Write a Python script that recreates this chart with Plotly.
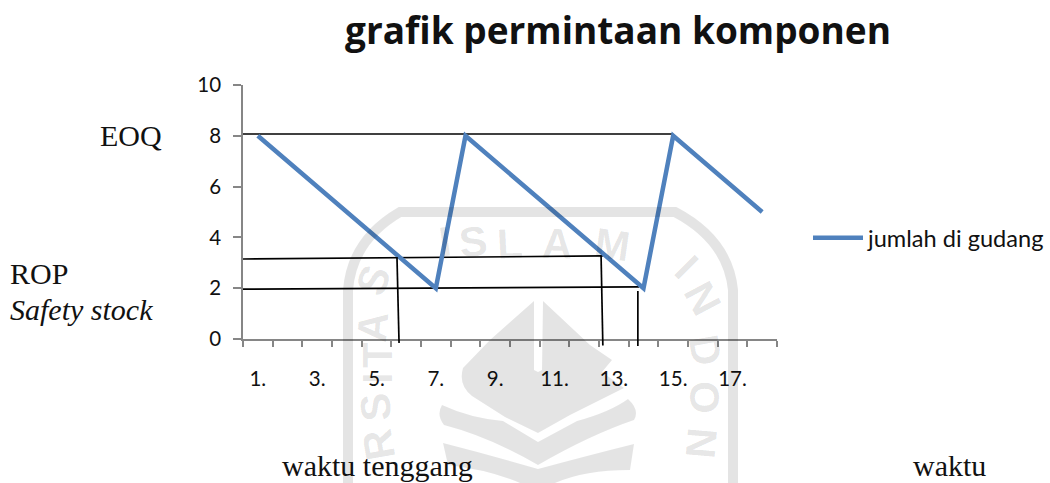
import plotly.graph_objects as go

# Chart data
categories = list(range(1, 19))
stock = [8, 7, 6, 5, 4, 3, 2, 8, 7, 6, 5, 4, 3, 2, 8, 7, 6, 5]
label_positions = [1, 3, 5, 7, 9, 11, 13, 15, 17]
label_texts = ["1.", "3.", "5.", "7.", "9.", "11.", "13.", "15.", "17."]
boundary_ticks = [i + 0.5 for i in range(0, 19)]
y_ticks = [0, 2, 4, 6, 8, 10]

# Hand-drawn guide lines (in axis units)
eoq_x, eoq_y = [0.5, 15.0], [8.07, 8.07]
rop_x, rop_y = [0.5, 12.63], [3.15, 3.27]
safety_x, safety_y = [0.5, 13.85], [1.96, 2.05]
lead1_x, lead1_y = [5.69, 5.76], [3.23, -0.16]
lead2_x, lead2_y = [12.57, 12.63], [3.27, -0.26]
lead3_x, lead3_y = [13.81, 13.81], [1.89, -0.28]

W, H = 1050, 483
L, R, T, B = 243, 777, 85, 339
X_RANGE = [0.5, 18.5]
Y_RANGE = [0, 10]


def px(x):
    return (x - L) / (R - L)


def py(y):
    return (B - y) / (B - T)


def xfrac(v):
    return (v - X_RANGE[0]) / (X_RANGE[1] - X_RANGE[0])


def yfrac(v):
    return (v - Y_RANGE[0]) / (Y_RANGE[1] - Y_RANGE[0])


WM = "rgba(0,0,0,0.105)"

fig = go.Figure()
for xs, ys in [(eoq_x, eoq_y), (rop_x, rop_y), (safety_x, safety_y)]:
    fig.add_trace(go.Scatter(x=xs, y=ys, mode="lines", showlegend=False,
                             hoverinfo="skip", line=dict(color="#000000", width=1.7)))
fig.add_trace(go.Scatter(x=categories, y=stock, mode="lines", name="jumlah di gudang",
                         line=dict(color="#4f81bd", width=4.5)))


def pth(cmds):
    out = []
    for c in cmds:
        if isinstance(c, str):
            out.append(c)
        else:
            out.append(f"{px(c[0]):.5f} {py(c[1]):.5f}")
    return " ".join(out)


shapes = []
# Lead-time lines run past the axis; paper-referenced shapes are not clipped to the plot area
for xs, ys in [(lead1_x, lead1_y), (lead2_x, lead2_y), (lead3_x, lead3_y)]:
    shapes.append(dict(type="line", xref="paper", yref="paper",
                       x0=xfrac(xs[0]), x1=xfrac(xs[1]), y0=yfrac(ys[0]), y1=yfrac(ys[1]),
                       line=dict(color="#000000", width=1.7), layer="above"))

wm_paths = [
    ["M", (534, 301), "L", (490, 340), "L", (463, 368), "Q", (458, 385), (472, 396),
     "L", (505, 417), "L", (538, 433), "L", (538, 372), "L", (534, 370), "Z"],
    ["M", (543, 301), "L", (590, 345), "L", (612, 360), "L", (602, 372), "L", (624, 388),
     "L", (570, 415), "L", (538, 433), "L", (538, 372), "L", (542, 370), "Z"],
    ["M", (442, 405), "Q", (470, 418), (503, 421), "L", (538, 442), "L", (577, 421),
     "Q", (610, 412), (628, 399), "Q", (640, 410), (634, 420), "Q", (590, 435), (538, 465),
     "Q", (490, 437), (444, 425), "Q", (436, 415), (442, 405), "Z"],
    ["M", (443, 443), "Q", (490, 455), (538, 469), "Q", (590, 455), (634, 444),
     "L", (630, 470), "Q", (585, 470), (555, 483), "L", (520, 483), "Q", (490, 470), (448, 465), "Z"],
]
for p in wm_paths:
    shapes.append(dict(type="path", xref="paper", yref="paper", path=pth(p),
                       fillcolor=WM, line=dict(width=0), layer="above"))
arch = ["M", (348, 483), "L", (348, 290), "Q", (352, 240), (400, 212), "L", (675, 212),
        "Q", (728, 240), (733, 290), "L", (733, 483)]
shapes.append(dict(type="path", xref="paper", yref="paper", path=pth(arch),
                   line=dict(color=WM, width=10), layer="above"))

annotations = []


def text(t, x, y, size, family="Liberation Serif", color="#111111", anchor="left", angle=0):
    annotations.append(dict(
        text=t, x=px(x), y=py(y), xref="paper", yref="paper",
        xanchor=anchor, yanchor="middle", showarrow=False, textangle=angle,
        font=dict(size=size, family=family, color=color)))


text("EOQ", 98, 135, 30)
text("ROP", 8, 273, 30)
text("<i>Safety stock</i>", 8, 309, 30)
text("waktu tenggang", 280, 465, 30)
text("waktu", 911, 465, 30)

# Watermark letters
for ch, x, y, ang in [("I", 445, 241, -8), ("S", 473, 241, -6), ("L", 510, 243, -3), ("A", 557, 243, 2),
                      ("M", 612, 244, 8), ("I", 687, 267, 45), ("N", 703, 298, 62), ("D", 706, 350, 80),
                      ("O", 705, 397, 90), ("N", 702, 443, 95), ("S", 373, 280, -70), ("A", 372, 327, -85),
                      ("T", 377, 355, -90), ("I", 377, 378, -90), ("S", 375, 407, -95), ("R", 378, 445, -100)]:
    text(f"<b>{ch}</b>", x, y, 42, family="Liberation Sans", color=WM, anchor="center", angle=ang)

fig.update_layout(
    width=W, height=H, autosize=False,
    margin=dict(l=L, r=W - R, t=T, b=H - B, autoexpand=False),
    paper_bgcolor="white", plot_bgcolor="rgba(0,0,0,0)",
    title=dict(text="<b>grafik permintaan komponen</b>", x=618 / W, xanchor="center",
               y=1 - 31 / H, yanchor="middle",
               font=dict(family="Open Sans", size=37, color="#111111")),
    legend=dict(x=px(808), y=py(238), xanchor="left", yanchor="middle", itemwidth=50,
                bgcolor="rgba(0,0,0,0)", font=dict(family="Lato", size=23.6, color="#111111")),
    shapes=shapes, annotations=annotations,
    xaxis=dict(range=X_RANGE, tickmode="array", tickvals=label_positions, ticktext=label_texts,
               ticks="", showgrid=False, zeroline=False, showline=True, linecolor="#868686", linewidth=1.5,
               ticklabelstandoff=21, tickfont=dict(family="Lato", size=20.5, color="#111111"),
               minor=dict(tickmode="array", tickvals=boundary_ticks, ticks="outside", ticklen=6,
                          tickcolor="#868686", tickwidth=1.5, showgrid=False)),
    yaxis=dict(range=Y_RANGE, tickvals=y_ticks, ticks="outside", ticklen=8, tickcolor="#868686",
               tickwidth=1.5, showgrid=False, zeroline=False, showline=True, linecolor="#868686",
               linewidth=1.5, ticklabelstandoff=8,
               tickfont=dict(family="Lato", size=20.5, color="#111111")),
)
fig.write_html("out.html", config={"displayModeBar": False},
               post_script="document.body.style.margin='0';document.documentElement.style.overflow='hidden';")
